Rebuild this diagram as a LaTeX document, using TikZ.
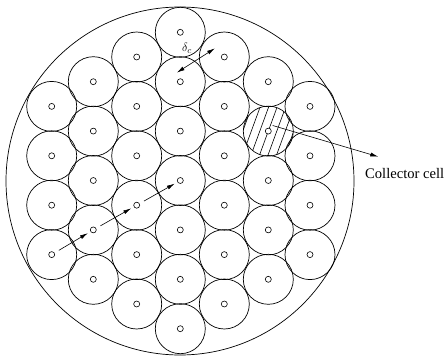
\documentclass[tikz,border=0pt]{standalone}
\usepackage{fontspec}
\setmainfont{Liberation Serif}
\usetikzlibrary{arrows.meta,calc}

\begin{document}
\begin{tikzpicture}[x=1pt,y=1pt,>={Latex[length=8pt,width=4pt]},
  cell/.style={draw,circle,minimum size=50pt,inner sep=0pt,line width=0.7pt},
  hole/.style={draw,circle,fill=white,minimum size=6pt,inner sep=0pt,line width=0.6pt},
  link/.style={->,line width=0.6pt}]
  \useasboundingbox (0,0) rectangle (445,-356);
  \node[draw,circle,minimum size=348pt,inner sep=0pt,line width=0.7pt] (bundle) at (180,-181) {};
  % columns of cells, left to right
  \foreach \c/\x/\n in {1/51.7/4,2/93.3/5,3/136.7/6,4/180.3/7,5/224.3/6,6/268.3/5,7/310/4}
    \foreach \j in {1,...,\n}
      \node[cell] (col\c-\j) at ({\x},{-180.5-(\j-(\n+1)/2)*49.4}) {};
  % hatched collector cell
  \begin{scope}
    \clip (col6-2.center) circle (25pt);
    \foreach \k in {-4,...,4}
      \draw[line width=0.6pt] ($(col6-2)+(\k*8.5-11,-30)$) -- ++(22,60);
  \end{scope}
  \foreach \c/\n in {1/4,2/5,3/6,4/7,5/6,6/5,7/4}
    \foreach \j in {1,...,\n}
      \node[hole] (h\c-\j) at (col\c-\j) {};
  % spacing d_c
  \coordinate (dcA) at ($(col4-2)+(-3.6,9)$);
  \coordinate (dcB) at ($(col5-1)+(-9.3,8.7)$);
  \draw[<->,line width=0.6pt] (dcA) -- (dcB);
  \node[font=\fontsize{13}{15}\selectfont,inner sep=0pt] (dclbl) at (187,-48) {$\delta_c$};
  % path towards the centre
  \foreach \a/\b in {h1-4/h2-4,h2-4/h3-4,h3-4/h4-4}
    \draw[link,shorten <=5pt,shorten >=3pt] (\a) -- (\b);
  % collector label
  \node[anchor=base west,font=\fontsize{14.6}{17}\selectfont,inner sep=0pt] (lbl) at (365,-178.3) {Collector cell};
  \coordinate (colA) at ($(col6-2)+(4.4,5.6)$);
  \coordinate (colB) at (378.3,-156.7);
  \draw[link] (colA) -- (colB);
\end{tikzpicture}
\end{document}
